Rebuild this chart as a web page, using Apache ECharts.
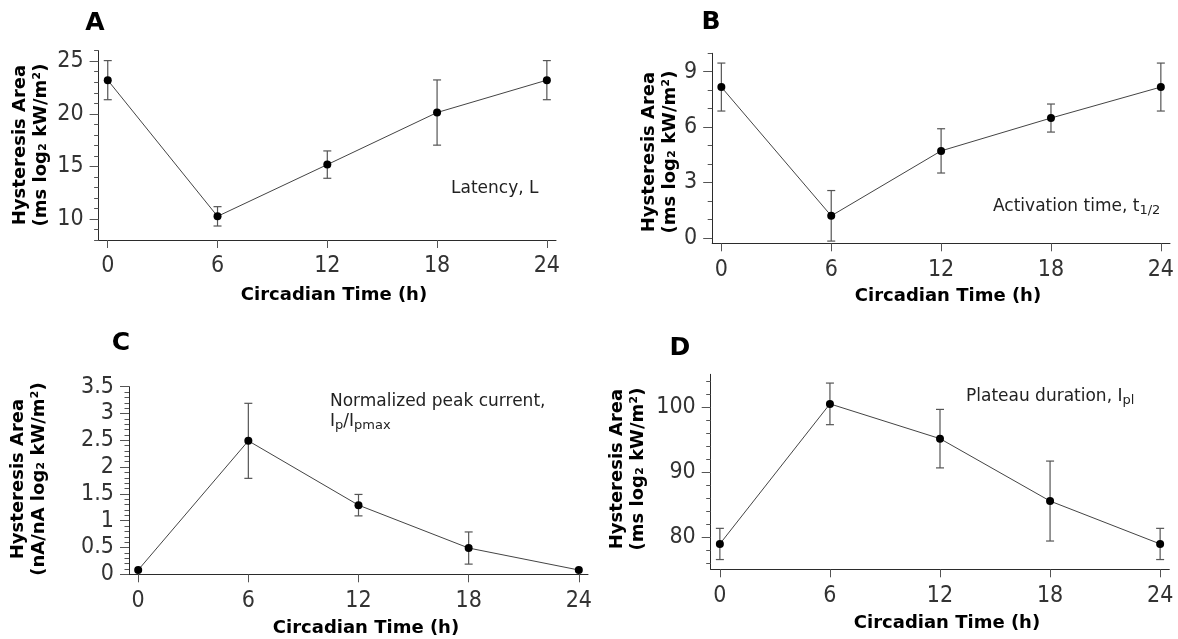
<!DOCTYPE html>
<html>
<head>
<meta charset="utf-8">
<script src="https://cdn.jsdelivr.net/npm/echarts@6/dist/echarts.min.js"></script>
<style>
html,body{margin:0;padding:0;background:#fff;}
#chart{width:1178px;height:639px;}
</style>
</head>
<body>
<div id="chart"></div>
<script>
// ---- data ----
const hours = [0, 6, 12, 18, 24];
const xTicks = [0, 6, 12, 18, 24];

const meanA = [23.2, 10.25, 15.17, 20.12, 23.2];
const errA  = [1.86, 0.92, 1.3, 3.1, 1.86];
const yTicksA = [10, 15, 20, 25];
const yMinorA = [8, 9, 11, 12, 13, 14, 16, 17, 18, 19, 21, 22, 23, 24, 26];

const meanB = [8.17, 1.19, 4.71, 6.49, 8.17];
const errB  = [1.3, 1.37, 1.2, 0.76, 1.3];
const yTicksB = [0, 3, 6, 9];
const yMinorB = [1, 2, 4, 5, 7, 8, 10];

const meanC = [0.08, 2.49, 1.29, 0.49, 0.08];
const errC  = [0, 0.7, 0.2, 0.3, 0];
const yTicksC = [0, 0.5, 1, 1.5, 2, 2.5, 3, 3.5];
const yMinorC = [0.1, 0.2, 0.3, 0.4, 0.6, 0.7, 0.8, 0.9, 1.1, 1.2, 1.3, 1.4,
                 1.6, 1.7, 1.8, 1.9, 2.1, 2.2, 2.3, 2.4, 2.6, 2.7, 2.8, 2.9,
                 3.1, 3.2, 3.3, 3.4];

const meanD = [78.9, 100.45, 95.1, 85.5, 78.9];
const errD  = [2.4, 3.2, 4.5, 6.15, 2.4];
const yTicksD = [80, 90, 100];
const yMinorD = [76, 78, 82, 84, 86, 88, 92, 94, 96, 98, 102, 104];

const panelLetters = ['A', 'B', 'C', 'D'];
const yTitles = [
  'Hysteresis Area\n(ms log\u2082 kW/m\u00B2)',
  'Hysteresis Area\n(ms log\u2082 kW/m\u00B2)',
  'Hysteresis Area\n(nA/nA log\u2082 kW/m\u00B2)',
  'Hysteresis Area\n(ms log\u2082 kW/m\u00B2)'
];
const xTitle = 'Circadian Time (h)';
const notes = [
  'Latency, L',
  'Activation time, t{s|1/2}',
  'Normalized peak current,\nI{s|p}/I{s|pmax}',
  'Plateau duration, I{s|pl}'
];

// ---- layout / style ----
const FONT = 'DejaVu Sans';
const TICKFONT = "'DejaVu Sans Condensed', 'DejaVu Sans'";
const panels = [
  {mean: meanA, err: errA, ticks: yTicksA, minor: yMinorA, ymin: 8, ymax: 26,
   grid: {left: 98.6, top: 50.7, width: 457.4, height: 189.3},
   letter: [95, 23], ytitle: [31, 145], xtitle: [334, 295], note: [451, 189, 'middle']},
  {mean: meanB, err: errB, ticks: yTicksB, minor: yMinorB, ymin: -0.3, ymax: 10,
   grid: {left: 712.2, top: 53.3, width: 457.8, height: 190},
   letter: [711, 22], ytitle: [660, 152], xtitle: [948, 296], note: [993, 207, 'middle']},
  {mean: meanC, err: errC, ticks: yTicksC, minor: yMinorC, ymin: 0, ymax: 3.5,
   grid: {left: 129, top: 386.7, width: 459, height: 187.6},
   letter: [121, 343], ytitle: [29, 479], xtitle: [366, 628], note: [330, 392, 'top']},
  {mean: meanD, err: errD, ticks: yTicksD, minor: yMinorD, ymin: 75, ymax: 105,
   grid: {left: 710.7, top: 374.3, width: 458.6, height: 195},
   letter: [680, 348], ytitle: [628, 469], xtitle: [947, 623], note: [966, 397, 'middle']}
];

const AX = '#2b2b2b';
const grids = [], xAxes = [], yAxes = [], series = [], graphics = [];

panels.forEach((p, i) => {
  grids.push(Object.assign({containLabel: false}, p.grid));
  xAxes.push({
    type: 'value', gridIndex: i, min: -0.5, max: 24.5, position: 'bottom',
    axisLine: {show: true, onZero: false, lineStyle: {color: AX, width: 1}},
    axisTick: {show: true, customValues: xTicks, length: 8, lineStyle: {color: '#555'}},
    axisLabel: {show: true, customValues: xTicks, margin: 15, fontFamily: TICKFONT, fontSize: 23, color: '#333'},
    splitLine: {show: false}
  });
  // major y axis
  yAxes.push({
    type: 'value', gridIndex: i, min: p.ymin, max: p.ymax, position: 'left',
    axisLine: {show: true, onZero: false, lineStyle: {color: AX, width: 1}},
    axisTick: {show: true, customValues: p.ticks, length: 9, lineStyle: {color: '#555'}},
    axisLabel: {show: true, customValues: p.ticks, margin: 15, fontFamily: TICKFONT, fontSize: 23, color: '#333'},
    splitLine: {show: false}
  });
  // minor y axis
  yAxes.push({
    type: 'value', gridIndex: i, min: p.ymin, max: p.ymax, position: 'left', offset: 0,
    axisLine: {show: false, onZero: false},
    axisTick: {show: true, customValues: p.minor, length: 4.5, lineStyle: {color: '#555'}},
    axisLabel: {show: false},
    splitLine: {show: false}
  });

  const pts = hours.map((h, k) => [h, p.mean[k]]);
  const bars = hours.map((h, k) => [h, p.mean[k] - p.err[k], p.mean[k] + p.err[k]]);

  series.push({
    type: 'custom', xAxisIndex: i, yAxisIndex: 2 * i, z: 2,
    data: bars,
    encode: {x: 0, y: [1, 2]},
    renderItem: function (params, api) {
      const x = api.value(0), lo = api.value(1), hi = api.value(2);
      if (hi - lo <= 0) return null;
      const a = api.coord([x, hi]), b = api.coord([x, lo]);
      const st = {stroke: '#555', lineWidth: 1.2};
      const cw = 4;
      return {
        type: 'group',
        children: [
          {type: 'line', shape: {x1: a[0], y1: a[1], x2: b[0], y2: b[1]}, style: st},
          {type: 'line', shape: {x1: a[0] - cw, y1: a[1], x2: a[0] + cw, y2: a[1]}, style: st},
          {type: 'line', shape: {x1: b[0] - cw, y1: b[1], x2: b[0] + cw, y2: b[1]}, style: st}
        ]
      };
    }
  });
  series.push({
    type: 'line', xAxisIndex: i, yAxisIndex: 2 * i, z: 3,
    data: pts,
    symbol: 'circle', symbolSize: 8,
    itemStyle: {color: '#000'},
    lineStyle: {color: '#444', width: 1},
    animation: false
  });

  graphics.push({
    type: 'text', x: p.letter[0], y: p.letter[1],
    style: {text: panelLetters[i], font: 'bold 25px ' + FONT, fill: '#000', align: 'center', verticalAlign: 'middle'}
  });
  graphics.push({
    type: 'text', x: p.ytitle[0], y: p.ytitle[1], rotation: Math.PI / 2,
    style: {text: yTitles[i], font: 'bold 18px ' + FONT, lineHeight: 21, fill: '#000', align: 'center', verticalAlign: 'middle'}
  });
  graphics.push({
    type: 'text', x: p.xtitle[0], y: p.xtitle[1],
    style: {text: xTitle, font: 'bold 18px ' + FONT, fill: '#000', align: 'center', verticalAlign: 'middle'}
  });
  graphics.push({
    type: 'text', x: p.note[0], y: p.note[1],
    style: {
      text: notes[i], fontFamily: FONT, fontSize: 17, lineHeight: 20, fill: '#222',
      align: 'left', verticalAlign: p.note[2],
      rich: {s: {fontFamily: FONT, fontSize: 13, lineHeight: 10, verticalAlign: 'bottom', fill: '#222'}}
    }
  });
});

const chart = echarts.init(document.getElementById('chart'), null, {renderer: 'canvas'});
chart.setOption({
  animation: false,
  backgroundColor: '#fff',
  grid: grids,
  xAxis: xAxes,
  yAxis: yAxes,
  series: series,
  graphic: graphics
});
</script>
</body>
</html>
